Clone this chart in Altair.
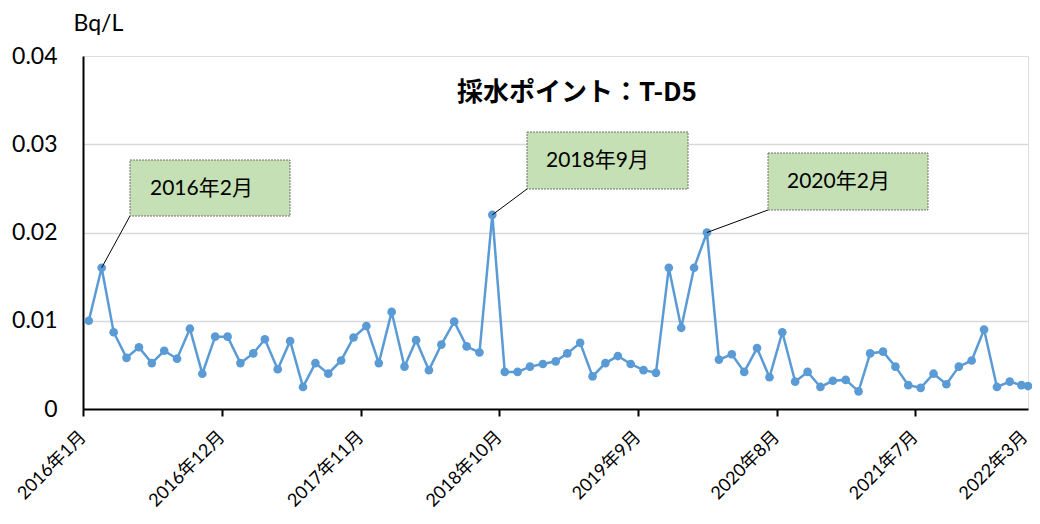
import altair as alt
import pandas as pd

# ---- data -------------------------------------------------------------
# sampling dates (monthly, mid-month) Jan 2016 .. Mar 2022, plus final sample at end of Mar 2022
dates = [f"{2016 + i // 12}-{i % 12 + 1:02d}-15" for i in range(75)] + ["2022-03-31"]
values = [
    0.0100, 0.0160, 0.0087, 0.0058, 0.0070, 0.0052, 0.0066, 0.0057, 0.0091, 0.0040,
    0.0082, 0.0082, 0.0052, 0.0063, 0.0079, 0.0045, 0.0077, 0.0025, 0.0052, 0.0040,
    0.0055, 0.0081, 0.0094, 0.0052, 0.0110, 0.0048, 0.0078, 0.0044, 0.0073, 0.0099,
    0.0071, 0.0064, 0.0220, 0.0042, 0.0042, 0.0048, 0.0051, 0.0054, 0.0063, 0.0075,
    0.0037, 0.0052, 0.0060, 0.0051, 0.0044, 0.0041, 0.0160, 0.0092, 0.0160, 0.0200,
    0.0056, 0.0062, 0.0042, 0.0069, 0.0036, 0.0087, 0.0031, 0.0042, 0.0025, 0.0032,
    0.0033, 0.0020, 0.0063, 0.0065, 0.0048, 0.0027, 0.0024, 0.0040, 0.0028, 0.0048,
    0.0055, 0.0090, 0.0025, 0.0031, 0.0027, 0.0026,
]
tick_dates = ["2016-01-01", "2016-12-01", "2017-11-01", "2018-10-01",
              "2019-09-01", "2020-08-01", "2021-07-01", "2022-03-23"]
y_ticks = [0, 0.01, 0.02, 0.03, 0.04]

annot_labels = ["2016年2月", "2018年9月", "2020年2月"]
annot_index = [1, 32, 49]

title_text = "採水ポイント：T-D5"
unit_text = "Bq/L"

# ---- layout / style (pixels relative to plot area) ---------------------
annot_boxes = [  # x0, x1, y0, y1, text_x, text_y
    (47, 207, 104, 160, 67, 133),
    (444, 605, 76, 133, 463, 105),
    (685, 845, 97, 154, 704, 126),
]
BLUE = "#5b9bd5"
LAT = "Lato, 'Noto Sans CJK JP', sans-serif"
JP = "'Noto Sans CJK JP', sans-serif"


def ms(d):
    return int(pd.Timestamp(d, tz="UTC").value // 10**6)


df = pd.DataFrame({"date": dates, "value": values})

x_enc = alt.X(
    "date:T",
    title=None,
    scale=alt.Scale(type="utc", domain=[ms("2016-01-01"), ms("2022-03-31")], nice=False),
    axis=alt.Axis(
        values=[ms(d) for d in tick_dates],
        labelExpr="utcyear(datum.value) + '年' + (utcmonth(datum.value) + 1) + '月'",
        labelAngle=-45, labelAlign="right", labelBaseline="middle",
        labelPadding=18, labelFontSize=18, labelFont=LAT, labelColor="black",
        labelFlush=False, labelOverlap=False, labelBound=False,
        domainColor="black", domainWidth=2,
        tickColor="black", tickSize=7, tickWidth=2,
        tickOpacity={"condition": {"test": f"datum.value > {ms('2022-01-01')}", "value": 0}, "value": 1},
        grid=False,
    ),
)
y_enc = alt.Y(
    "value:Q",
    scale=alt.Scale(domain=[0, 0.04], nice=False, zero=True),
    axis=alt.Axis(
        values=y_ticks, format=".2~f",
        ticks=False, labelPadding=26, labelFontSize=23, labelFont=LAT, labelColor="black",
        domainColor="black", domainWidth=2,
        grid=True, gridColor="#d9d9d9", gridWidth=1.5,
        gridOpacity={"condition": {"test": "datum.value > 0.035 || datum.value == 0", "value": 0}, "value": 1},
        title=unit_text, titleAngle=0, titleX=-10, titleY=-26,
        titleAlign="left", titleBaseline="alphabetic",
        titleFont=LAT, titleFontSize=23, titleFontWeight="normal", titleColor="black",
    ),
)

base = alt.Chart(df)
line = base.mark_line(color=BLUE, strokeWidth=2.5).encode(x=x_enc, y=y_enc)
pts = base.mark_circle(color=BLUE, size=75, opacity=1).encode(x="date:T", y="value:Q")

layers = [line, pts]
one = pd.DataFrame({"a": [0]})
for lab, idx, (x0, x1, y0, y1, tx, ty) in zip(annot_labels, annot_index, annot_boxes):
    pdf = pd.DataFrame({"date": [dates[idx]], "value": [values[idx]]})
    layers.append(
        alt.Chart(pdf).mark_rule(color="black", strokeWidth=1).encode(
            x="date:T", y="value:Q", x2=alt.value(x0), y2=alt.value(y1)
        )
    )
    layers.append(
        alt.Chart(one).mark_rect(
            fill="#c5e0b4", stroke="#707070", strokeWidth=1, strokeDash=[2, 1]
        ).encode(x=alt.value(x0), x2=alt.value(x1), y=alt.value(y0), y2=alt.value(y1))
    )
    layers.append(
        alt.Chart(one).mark_text(
            align="left", baseline="middle", font=LAT, fontSize=21, color="black"
        ).encode(x=alt.value(tx), y=alt.value(ty), text=alt.value(lab))
    )

layers.append(
    alt.Chart(one).mark_text(
        align="center", baseline="middle", font=JP, fontSize=26, fontWeight="bold", color="black"
    ).encode(x=alt.value(494), y=alt.value(37), text=alt.value(title_text))
)

chart = (
    alt.layer(*layers)
    .properties(
        width=945, height=353,
        padding={"left": 75, "top": 48, "right": 4, "bottom": 102},
        autosize=alt.AutoSizeParams(type="none"),
    )
    .configure_view(stroke="black", strokeWidth=2)
    .configure(background="white")
)

chart.save("out.html", embed_options={"renderer": "svg", "actions": False})
